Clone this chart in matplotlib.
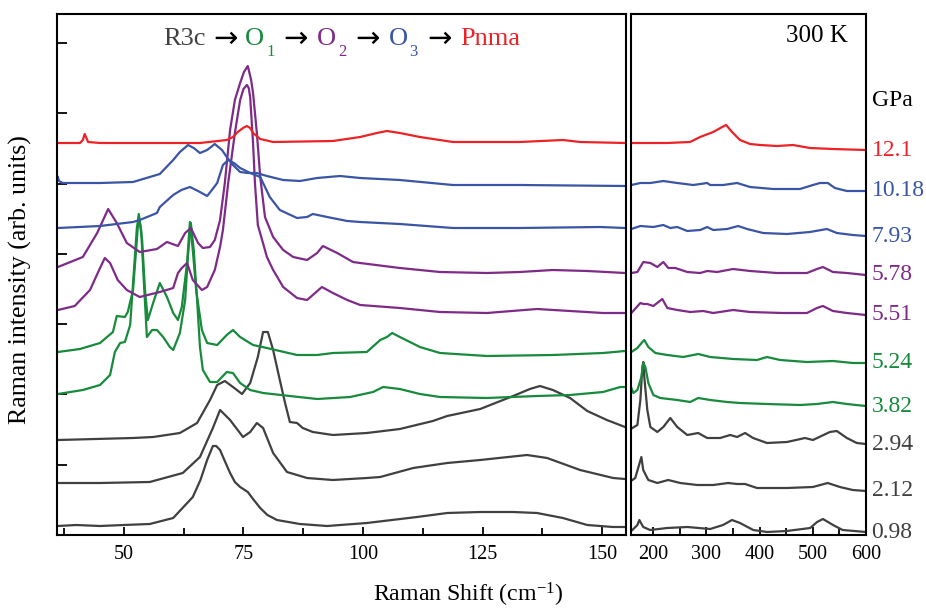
import matplotlib.pyplot as plt
from matplotlib.ticker import MultipleLocator, NullFormatter, FixedLocator

plt.rcParams['font.family'] = ['Liberation Serif', 'DejaVu Serif']
plt.rcParams['mathtext.fontset'] = 'custom'
plt.rcParams['mathtext.rm'] = 'Liberation Serif'
plt.rcParams['mathtext.it'] = 'Liberation Serif:italic'

# spectra, already stacked (arb. units)
# "low" = 36-155 cm-1 panel, "high" = 158-600 cm-1 panel

low_098_x = [36.2, 40, 45, 50, 55.4, 60.3, 64.4, 66, 67.4, 68.6, 69.3, 70.1, 71, 72.2, 73.2, 74.3, 75.9, 77, 78.5, 80,
             82.0, 86.8, 92.5, 100.8, 111.3, 117.6, 124.5, 131.4, 136.4, 141.8, 146.9, 152.3, 154.8]
low_098_y = [9, 10, 9, 10, 11, 17, 38, 55, 75, 89, 89, 85, 75, 62, 53, 48, 43, 36, 27, 20,
             15, 11, 9, 12, 18, 22, 23, 23, 22, 17, 10, 8, 8]
high_098_x = [160.6, 170, 173.7, 181, 194, 226, 264, 307, 331, 348, 363, 388, 414, 451, 495, 508, 519, 538, 556, 600]
high_098_y = [5, 10, 15, 8, 5, 7, 8, 6, 10, 15, 12, 5, 3, 4, 7, 13, 16, 10, 5, 3]

low_212_x = [36.2, 45, 55.4, 62.3, 65.9, 68.6, 70.1, 72.2, 74.9, 76.4, 77.8, 79.1, 81.2, 84.1, 88.3, 93.7, 100.8,
             103.6, 110.5, 117.6, 124.5, 134.3, 138.5, 145.4, 152.3, 154.8]
low_212_y = [52, 52, 53, 62, 78, 107, 125, 115, 98, 103, 112, 107, 82, 63, 57, 55, 57,
             58, 67, 72, 75, 80, 77, 65, 57, 56]
high_212_x = [160.6, 166, 172, 177.5, 181, 190.6, 207.5, 228, 250.7, 282.6, 312.6, 340.7, 357.6, 372.6, 395, 451.4,
              500, 528, 551, 575, 600]
high_212_y = [55, 57, 68, 78, 65, 55, 52, 55, 52, 50, 50, 52, 51, 51, 47, 47, 48, 52, 48, 45, 44]

low_294_x = [36.2, 51.9, 56.1, 61.7, 65.3, 68.0, 69.5, 71.1, 72.8, 74.7, 76.4, 78.0, 79.1, 80.1, 81.2, 82.6, 83.7,
             84.7, 86.2, 87.4, 89.5, 93.7, 100.8, 107.7, 114.6, 117.6, 124.5, 131.4, 134.9, 137.0, 139.7, 143.3,
             146.9, 151.0, 154.8]
low_294_y = [95, 97, 98, 102, 112, 135, 150, 154, 148, 141, 152, 178, 203, 203, 185, 155, 132,
             113, 112, 107, 103, 100, 102, 106, 114, 119, 126, 139, 146, 149, 145, 137,
             124, 115, 108]
high_294_x = [160.6, 170, 175.6, 179.4, 181.2, 183, 188.7, 194.4, 207.5, 218.8, 231.9, 245, 263.8, 284.4, 301.3,
              325.7, 344.5, 357.6, 372.6, 387.6, 413.9, 451.4, 485.2, 500.2, 532, 545, 564, 582.7, 600]
high_294_y = [107, 110, 135, 168, 173, 158, 125, 108, 103, 108, 117, 108, 100, 102, 97,
              97, 100, 98, 102, 97, 92, 93, 97, 95, 103, 104, 97, 92, 91]

low_382_x = [36.2, 41.4, 45.0, 47.1, 48.1, 49.2, 50.2, 51.3, 52.1, 52.7, 53.1, 53.6, 54.2, 54.8, 55.9, 56.9, 58.2,
             59.6, 60.3, 61.7, 62.8, 63.4, 64.0, 64.6, 65.3, 65.9, 66.5, 68.0, 69.5, 71.5, 72.8, 74.3, 76.4, 79.1,
             84.7, 90.4, 97.3, 102.1, 104.2, 107.7, 111.9, 116.1, 125.9, 136.4, 143.3, 150.2, 153.8, 154.8]
low_382_y = [141, 145, 150, 160, 183, 192, 193, 210, 265, 307, 319, 305, 250, 198, 205, 205, 198,
             188, 185, 202, 235, 280, 312, 285, 235, 188, 165, 153, 153, 163, 162, 152, 145, 142,
             139, 136, 138, 143, 148, 146, 141, 138, 137, 139, 140, 143, 148, 148]
high_382_x = [158.7, 162.5, 170, 177.5, 181.2, 185, 190.6, 200, 213, 245, 269.4, 284.4, 307, 338.8, 363, 413.9,
              475.8, 507.7, 537.7, 564, 599.6]
high_382_y = [147, 142, 145, 158, 172, 168, 152, 140, 137, 135, 133, 137, 135, 133, 132, 131,
              130, 131, 133, 131, 129]

low_524_x = [36.2, 40.8, 45.0, 47.7, 48.5, 50.2, 50.8, 51.9, 52.7, 53.1, 53.8, 54.4, 55.0, 56.1, 57.5, 59.0, 60.3,
             61.3, 62.1, 63.2, 63.8, 64.4, 65.1, 66.3, 67.4, 69.5, 71.5, 72.8, 74.3, 77.0, 79.9, 86.2, 90.4, 93.7,
             100.8, 103.6, 105.0, 106.1, 107.7, 111.9, 116.1, 125.9, 139.7, 150.2, 154.8]
low_524_y = [183, 186, 192, 203, 219, 218, 223, 245, 295, 321, 295, 245, 215, 232, 252, 238, 222,
             215, 228, 272, 313, 285, 245, 205, 192, 190, 200, 205, 198, 190, 187, 180, 180, 182,
             183, 195, 198, 202, 198, 188, 182, 179, 180, 182, 184]
high_524_x = [158.7, 170, 179.4, 183, 190.6, 203.8, 226.3, 256.3, 284.4, 307, 350, 395, 413.9, 438.3, 489, 537.7,
              575.2, 599.6]
high_524_y = [183, 187, 193, 195, 188, 182, 180, 178, 181, 178, 176, 175, 178, 175, 173, 174, 172, 172]

low_551_x = [36.2, 39.7, 42.9, 45.0, 46.0, 47.1, 48.7, 50.6, 53.3, 57.5, 60.3, 61.3, 62.1, 63.2, 64.4, 66.3, 67.4,
             69.0, 70.1, 70.7, 71.8, 73.2, 74.3, 75.0, 75.7, 76.1, 76.4, 77.0, 77.4, 78.0, 78.9, 79.9, 81.2, 83.3,
             86.2, 88.3, 89.5, 91.4, 93.7, 96.7, 99.4, 107.7, 116.1, 125.9, 136.4, 143.3, 150.2, 154.8]
low_551_y = [225, 229, 245, 267, 277, 272, 255, 245, 238, 243, 247, 262, 267, 272, 255, 245, 248,
             265, 288, 305, 352, 402, 435, 446, 450, 447, 438, 392, 352, 310, 295, 278, 265, 248,
             237, 235, 240, 248, 242, 235, 230, 227, 223, 222, 226, 224, 222, 222]
high_551_x = [158.7, 175.6, 181.2, 188.7, 194.4, 200, 216.9, 226.3, 245, 269.4, 293.8, 312.6, 350, 382, 443.9, 489,
              507.7, 519, 537.7, 564, 599.6]
high_551_y = [222, 232, 231, 231, 230, 229, 236, 227, 225, 223, 224, 222, 225, 223, 222, 222,
              227, 229, 224, 222, 220]

low_578_x = [36.2, 41.4, 44.4, 46.7, 48.5, 50.6, 53.3, 56.9, 59.0, 61.3, 62.8, 64.0, 65.5, 66.5, 68.0, 69.0, 70.1,
             71.1, 72.2, 73.2, 74.3, 75.1, 75.9, 76.6, 77.0, 77.8, 78.5, 79.5, 81.2, 83.3, 85.4, 88.3, 90.4, 91.6,
             94.6, 97.9, 99.4, 107.7, 116.1, 125.9, 132.8, 139.7, 146.9, 154.8]
low_578_y = [268, 278, 302, 326, 312, 292, 283, 286, 293, 289, 302, 307, 292, 287, 288, 295, 315,
             352, 405, 435, 452, 463, 469, 455, 442, 402, 358, 318, 298, 285, 278, 275, 282, 289,
             282, 273, 272, 267, 263, 262, 263, 265, 264, 262]
high_578_x = [158.7, 170, 181.2, 194.4, 207.5, 218.8, 228.1, 241.3, 263.8, 288.2, 301.3, 320, 350, 382, 432.6, 489,
              507.7, 519, 537.7, 564, 599.6]
high_578_y = [262, 263, 273, 272, 268, 273, 267, 267, 263, 262, 264, 263, 266, 264, 262, 262,
              266, 268, 263, 262, 260]

low_793_x = [36.2, 45.0, 51.9, 53.3, 56.9, 57.5, 60.3, 62.0, 63.8, 65.5, 67.4, 68.4, 69.5, 70.7, 71.8, 73.0, 74.3,
             76.4, 78.5, 80.5, 82.6, 86.2, 88.3, 89.5, 92.5, 96.7, 99.4, 107.7, 118.8, 132.8, 149.6, 154.8]
low_793_y = [307, 309, 313, 315, 322, 328, 340, 345, 348, 344, 339, 345, 352, 370, 375, 372, 367,
             362, 358, 338, 325, 317, 318, 321, 318, 314, 313, 311, 307, 307, 308, 307]
high_793_x = [158.7, 175.6, 200, 218.8, 231.9, 245, 263.8, 288.2, 301.3, 312.6, 338.8, 359.5, 376.4, 406.4, 451.4,
              494.6, 526.5, 545.2, 575.2, 599.6]
high_793_y = [306, 309, 308, 310, 307, 308, 304, 305, 308, 305, 306, 309, 306, 302, 301,
              303, 306, 302, 300, 299]

low_1018_x = [36.2, 36.4, 37.2, 45.0, 51.9, 57.5, 60.3, 61.7, 63.4, 64.6, 65.9, 67.4, 69.0, 70.5, 71.5, 72.8, 74.3,
              75.9, 77.8, 79.9, 83.3, 86.8, 90.4, 95.2, 99.4, 107.7, 118.8, 132.8, 154.8]
low_1018_y = [358, 354, 352, 352, 353, 361, 375, 383, 390, 387, 382, 385, 391, 385, 378, 370, 363,
              362, 362, 359, 355, 354, 357, 359, 357, 355, 350, 350, 349]
high_1018_x = [158.7, 175.6, 194.4, 218.8, 245, 275, 301.3, 307, 331.3, 357.6, 382, 425.1, 475.8, 500.2, 513.3,
               528.3, 541.5, 564, 599.6]
high_1018_y = [350, 352, 352, 354, 352, 350, 352, 350, 350, 352, 348, 346, 346, 350, 352, 352, 347, 344, 344]

low_121_x = [36.2, 40.8, 41.4, 41.8, 42.5, 45.0, 51.9, 65.9, 71.5, 72.8, 73.8, 74.9, 75.7, 76.4, 77.0, 78.5, 81.2,
             93.7, 99.4, 102.9, 105.0, 107.7, 111.9, 118.8, 132.8, 141.8, 145.4, 154.8]
low_121_y = [392, 392, 395, 401, 393, 392, 392, 392, 395, 398, 403, 407, 409, 407, 402, 396, 393,
             394, 398, 402, 404, 402, 398, 393, 393, 395, 393, 392]
high_121_x = [158.7, 226, 269, 288, 312.6, 329.5, 337, 348, 363, 382, 400.8, 432.6, 462.7, 494.6, 537.7, 599.6]
high_121_y = [392, 392, 393, 398, 403, 408, 410, 403, 395, 391, 390, 389, 390, 387, 386, 385]

pressures = ["0.98", "2.12", "2.94", "3.82", "5.24", "5.51", "5.78", "7.93", "10.18", "12.1"]

GRAY = "#404040"
GREEN = "#178a3c"
PURPLE = "#7e2b88"
BLUE = "#3a55a6"
RED = "#ec2227"
colors = [GRAY, GRAY, GRAY, GREEN, GREEN, PURPLE, PURPLE, BLUE, BLUE, RED]

low = [(low_098_x, low_098_y), (low_212_x, low_212_y), (low_294_x, low_294_y), (low_382_x, low_382_y),
       (low_524_x, low_524_y), (low_551_x, low_551_y), (low_578_x, low_578_y), (low_793_x, low_793_y),
       (low_1018_x, low_1018_y), (low_121_x, low_121_y)]
high = [(high_098_x, high_098_y), (high_212_x, high_212_y), (high_294_x, high_294_y), (high_382_x, high_382_y),
        (high_524_x, high_524_y), (high_551_x, high_551_y), (high_578_x, high_578_y), (high_793_x, high_793_y),
        (high_1018_x, high_1018_y), (high_121_x, high_121_y)]

fig = plt.figure(figsize=(9.26, 6.10), dpi=100)
ax1 = fig.add_axes([57 / 926, 75 / 610, 569 / 926, 521 / 610])
ax2 = fig.add_axes([631 / 926, 75 / 610, 235 / 926, 521 / 610])

for (x, y), c in zip(low, colors):
    ax1.plot(x, y, color=c, lw=1.6, solid_joinstyle="round")
for (x, y), c, p in zip(high, colors, pressures):
    ax2.plot(x, y, color=c, lw=1.6, solid_joinstyle="round")
    ax2.annotate(p, xy=(1, y[-1]), xycoords=("axes fraction", "data"), xytext=(4, 0),
                 textcoords="offset points", ha="left", va="center", fontsize=17, color=c,
                 annotation_clip=False)
ax2.annotate("GPa", xy=(1, 435), xycoords=("axes fraction", "data"), xytext=(4, 0),
             textcoords="offset points", ha="left", va="center", fontsize=17, color="black",
             annotation_clip=False)

for ax in (ax1, ax2):
    ax.set_ylim(0, 521)
    for s in ax.spines.values():
        s.set_linewidth(1.5)
    ax.tick_params(which="both", direction="in", top=False, right=False, width=1.3,
                   labelsize=14.5, pad=7)
    ax.tick_params(which="major", length=6)
    ax.tick_params(which="minor", length=5)

ax1.set_xlim(36, 155)
ax1.xaxis.set_major_locator(MultipleLocator(25))
ax1.xaxis.set_minor_locator(MultipleLocator(12.5))
ax1.yaxis.set_major_locator(MultipleLocator(70.3))
ax1.yaxis.set_major_formatter(NullFormatter())
ax1.tick_params(axis="y", length=7)

ax2.set_xlim(158, 600)
ax2.xaxis.set_major_locator(MultipleLocator(100))
ax2.xaxis.set_minor_locator(MultipleLocator(50))
ax2.yaxis.set_major_locator(FixedLocator([]))


# phase sequence title, written piece by piece: (text, colour, size, family, shift down px, gap after px)
def arrow(gap):
    return ("\u2192", "black", 21, "DejaVu Sans", 2, gap)


parts = [("R3c", GRAY, 19, "Liberation Serif", 0, 8), arrow(7),
         ("O", GREEN, 19, "Liberation Serif", 0, 2), ("1", GREEN, 12, "Liberation Serif", 11, 9), arrow(9),
         ("O", PURPLE, 19, "Liberation Serif", 0, 2), ("2", PURPLE, 12, "Liberation Serif", 11, 9), arrow(9),
         ("O", BLUE, 19, "Liberation Serif", 0, 2), ("3", BLUE, 12, "Liberation Serif", 11, 9), arrow(9),
         ("Pnma", RED, 19, "Liberation Serif", 0, 0)]
renderer = fig.canvas.get_renderer()
x_off = 0
for text, c, size, fam, drop, gap in parts:
    t = ax1.annotate(text, xy=(0.1863, 0.9405), xycoords="axes fraction", xytext=(x_off, -drop),
                     textcoords="offset pixels", fontsize=size, color=c, family=fam,
                     ha="left", va="baseline")
    x_off += t.get_window_extent(renderer).width + gap

ax2.text(0.923, 0.958, "300 K", transform=ax2.transAxes, ha="right", va="center", fontsize=18)

fig.text(20 / 926, 1 - 280 / 610, "Raman intensity (arb. units)", rotation=90,
         ha="center", va="center", fontsize=18.6)
fig.text(468 / 926, 1 - 595 / 610, "Raman Shift (cm$^{\\mathregular{-1}}$)",
         ha="center", va="center", fontsize=17.2)

fig.savefig("out.png", dpi=100)
